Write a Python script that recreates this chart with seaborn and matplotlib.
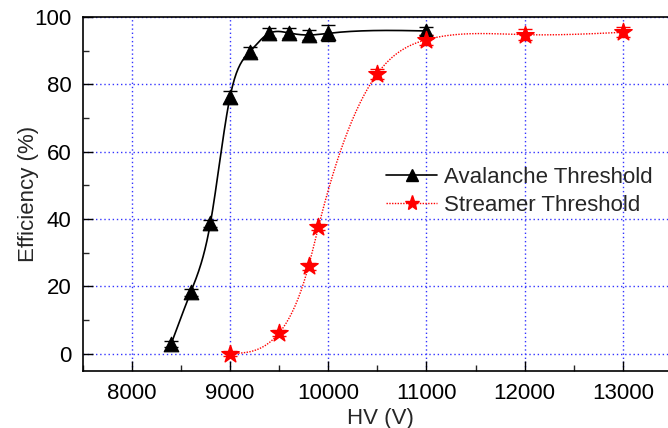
import numpy as np
import pandas as pd
import matplotlib
matplotlib.use("Agg")
import matplotlib.pyplot as plt
import seaborn as sns
from matplotlib.ticker import MultipleLocator
from matplotlib.lines import Line2D

# ---- data ----
aval_hv = [8400, 8600, 8800, 9000, 9200, 9400, 9600, 9800, 10000, 11000]
aval_eff = [2.9, 18.3, 38.7, 76.2, 89.6, 95.1, 95.2, 94.6, 95.1, 95.8]
aval_err = [1.0, 1.0, 1.0, 1.8, 1.5, 1.5, 1.5, 1.5, 2.4, 1.3]

str_hv = [9000, 9500, 9800, 9900, 10500, 11000, 12000, 13000]
str_eff = [0.1, 6.2, 26.0, 37.6, 83.1, 93.2, 94.7, 95.4]
str_err = [0.6, 0.8, 1.0, 1.0, 1.5, 1.5, 1.6, 1.5]

x_ticks = [8000, 9000, 10000, 11000, 12000, 13000]
y_ticks = [0, 20, 40, 60, 80, 100]


def natural_spline(x, y, n=400):
    x = np.asarray(x, float)
    y = np.asarray(y, float)
    k = len(x)
    h = np.diff(x)
    A = np.zeros((k, k))
    b = np.zeros(k)
    A[0, 0] = 1
    A[-1, -1] = 1
    for i in range(1, k - 1):
        A[i, i - 1] = h[i - 1]
        A[i, i] = 2 * (h[i - 1] + h[i])
        A[i, i + 1] = h[i]
        b[i] = 6 * ((y[i + 1] - y[i]) / h[i] - (y[i] - y[i - 1]) / h[i - 1])
    M = np.linalg.solve(A, b)
    xs = np.linspace(x[0], x[-1], n)
    idx = np.clip(np.searchsorted(x, xs) - 1, 0, k - 2)
    x0, x1 = x[idx], x[idx + 1]
    hh = x1 - x0
    t0 = x1 - xs
    t1 = xs - x0
    ys = (M[idx] * t0 ** 3 / (6 * hh) + M[idx + 1] * t1 ** 3 / (6 * hh)
          + (y[idx] / hh - M[idx] * hh / 6) * t0
          + (y[idx + 1] / hh - M[idx + 1] * hh / 6) * t1)
    return xs, ys


sns.set_style("ticks")
plt.rcParams["font.family"] = ["Liberation Sans", "DejaVu Sans"]

fig = plt.figure(figsize=(6.68, 4.28), dpi=100)
ax = fig.add_axes([82.7 / 668, 57.3 / 428, (678 - 82.7) / 668, (370.7 - 16.8) / 428])

ax_x, ax_y = natural_spline(aval_hv, aval_eff)
st_x, st_y = natural_spline(str_hv, str_eff)

sns.lineplot(x=ax_x, y=ax_y, ax=ax, color="black", lw=1.2, sort=False)
sns.lineplot(x=st_x, y=st_y, ax=ax, color="red", lw=1.0, ls=(0, (1, 1)), sort=False)

ax.errorbar(aval_hv, aval_eff, yerr=aval_err, fmt="none", ecolor="black",
            elinewidth=1, capsize=5, capthick=1, zorder=3)
ax.errorbar(str_hv, str_eff, yerr=str_err, fmt="none", ecolor="red",
            elinewidth=1, capsize=5, capthick=1, zorder=3)

sns.scatterplot(x=aval_hv, y=aval_eff, ax=ax, marker="^", s=110,
                color="black", edgecolor="black", zorder=4)
sns.scatterplot(x=str_hv, y=str_eff, ax=ax, marker="*", s=170,
                color="red", edgecolor="red", zorder=4)

ax.set_xlim(7500, 7500 + (678 - 82.7) / 98.2 * 1000)
ax.set_ylim(-5, 100)
ax.set_xticks(x_ticks)
ax.set_yticks(y_ticks)
ax.xaxis.set_minor_locator(MultipleLocator(500))
ax.yaxis.set_minor_locator(MultipleLocator(10))
ax.tick_params(which="major", direction="in", length=7, width=1,
               labelsize=16, colors="black", pad=8)
ax.tick_params(which="minor", direction="in", length=4.5, width=1)
ax.tick_params(axis="x", which="major", pad=9)

ax.grid(True, which="major", color="#3333ff", ls=(0, (1, 2)), lw=1)
ax.set_axisbelow(True)

for s in ["left", "bottom", "top"]:
    ax.spines[s].set_linewidth(1.2)
    ax.spines[s].set_color("black")
ax.spines["right"].set_visible(False)

ax.set_xlabel("HV (V)", fontsize=16, labelpad=3)
ax.set_ylabel("Efficiency (%)", fontsize=16, labelpad=-3)

h1 = Line2D([], [], color="black", lw=1.2, marker="^", markersize=9)
h2 = Line2D([], [], color="red", lw=1.0, ls=(0, (1, 1)), marker="*", markersize=11)
fig.legend([h1, h2], ["Avalanche Threshold", "Streamer Threshold"],
           loc="upper left", bbox_to_anchor=(386 / 668, 1 - 167 / 428),
           frameon=False, fontsize=16, handlelength=2.3, handletextpad=0.3,
           labelspacing=0.3, borderpad=0, borderaxespad=0)

fig.savefig("out.png", dpi=100)
